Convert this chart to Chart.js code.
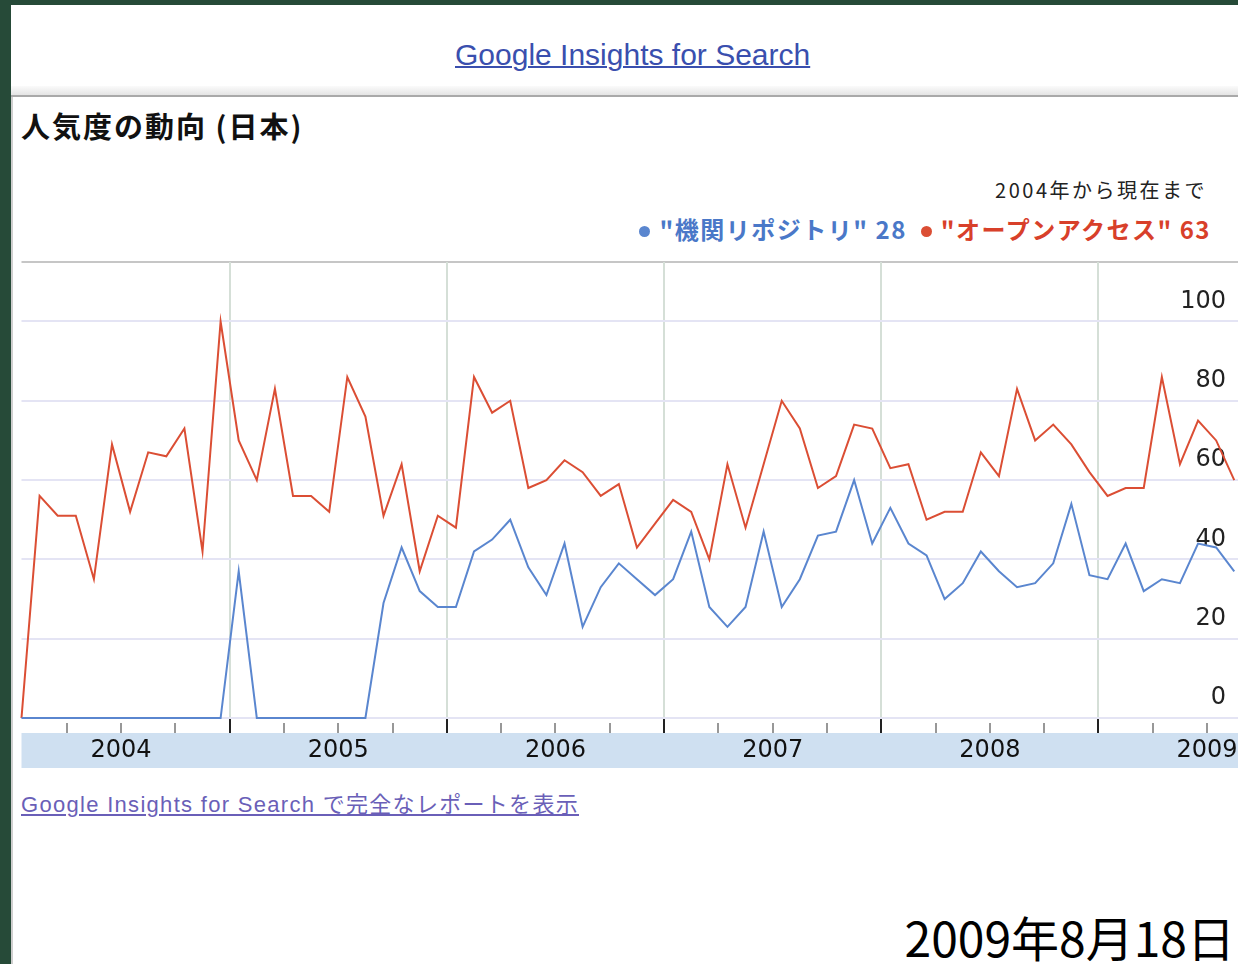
<!DOCTYPE html>
<html>
<head>
<meta charset="utf-8">
<script src="https://cdn.jsdelivr.net/npm/chart.js@4.4.1/dist/chart.umd.min.js"></script>
<style>
	html, body
	{
		margin: 0;
		padding: 0;
		width: 1238px;
		height: 964px;
		overflow: hidden;
		background: #264a38;
	}
	#panel
	{
		position: absolute;
		left: 11px;
		top: 5px;
		width: 1227px;
		height: 959px;
		background: #ffffff;
	}
	#headBar
	{
		position: absolute;
		left: 11px;
		top: 86px;
		width: 1227px;
		height: 9px;
		background: linear-gradient(#fbfbfb, #e4e4e4);
		border-bottom: 2px solid #a9a9a9;
	}
	#leftLine
	{
		position: absolute;
		left: 11px;
		top: 97px;
		width: 2px;
		height: 867px;
		background: #cfcfcf;
	}
	.txt
	{
		position: absolute;
		white-space: nowrap;
		font-family: "Noto Sans CJK JP", sans-serif;
	}
	#topLink
	{
		left: 455px;
		top: 40px;
		font: 30px/30px "Liberation Sans", sans-serif;
		color: #3a4fae;
		text-decoration: underline;
		text-decoration-thickness: 2px;
	}
	#title
	{
		left: 21px;
		top: 109px;
		font-size: 29px;
		line-height: 32px;
		font-weight: bold;
		letter-spacing: 2px;
		color: #111;
	}
	#period
	{
		right: 31px;
		top: 177px;
		font-size: 20px;
		line-height: 26px;
		letter-spacing: 2.5px;
		color: #222;
	}
	#legend
	{
		right: 27px;
		top: 214px;
		display: flex;
		align-items: center;
		font-size: 24px;
		line-height: 30px;
		font-weight: bold;
		letter-spacing: 1.5px;
	}
	#legend .dot
	{
		display: inline-block;
		width: 11px;
		height: 11px;
		border-radius: 50%;
		margin: 4px 9px 0 0;
	}
	#legend .item
	{
		display: flex;
		align-items: center;
		margin-left: 14px;
	}
	#chartBox
	{
		position: absolute;
		left: 12px;
		top: 255px;
		width: 1250px;
		height: 513px;
	}
	#bottomLink
	{
		left: 21px;
		top: 791px;
		font: 22px/28px "Liberation Sans", "Noto Sans CJK JP", sans-serif;
		letter-spacing: 1.3px;
		color: #6a5fb8;
		text-decoration: underline;
	}
	#date
	{
		right: 3px;
		top: 906px;
		font-size: 48px;
		line-height: 60px;
		color: #000;
	}
</style>
</head>
<body>
<div id="panel"></div>
<div id="headBar"></div>
<div id="leftLine"></div>
<div class="txt" id="topLink">Google Insights for Search</div>
<div class="txt" id="title">人気度の動向 (日本)</div>
<div class="txt" id="period">2004年から現在まで</div>
<div class="txt" id="legend"></div>
<div id="chartBox"><canvas id="trend"></canvas></div>
<div class="txt" id="bottomLink">Google Insights for Search で完全なレポートを表示</div>
<div class="txt" id="date">2009年8月18日</div>

<script>
// monthly values, Jan 2004 .. Aug 2009
var repoName = "\"機関リポジトリ\"";
var repoAvg = 28;
var repoVals = [0, 0, 0, 0, 0, 0, 0, 0, 0, 0, 0, 0,
	37, 0, 0, 0, 0, 0, 0, 0, 29, 43, 32, 28,
	28, 42, 45, 50, 38, 31, 44, 23, 33, 39, 35, 31,
	35, 47, 28, 23, 28, 47, 28, 35, 46, 47, 60, 44,
	53, 44, 41, 30, 34, 42, 37, 33, 34, 39, 54, 36,
	35, 44, 32, 35, 34, 44, 43, 37];

var oaName = "\"オープンアクセス\"";
var oaAvg = 63;
var oaVals = [0, 56, 51, 51, 35, 69, 52, 67, 66, 73, 42, 100,
	70, 60, 83, 56, 56, 52, 86, 76, 51, 64, 37, 51,
	48, 86, 77, 80, 58, 60, 65, 62, 56, 59, 43, 49,
	55, 52, 40, 64, 48, 64, 80, 73, 58, 61, 74, 73,
	63, 64, 50, 52, 52, 67, 61, 83, 70, 74, 69, 62,
	56, 58, 58, 86, 64, 75, 70, 60];

var yearLabels = ["2004", "2005", "2006", "2007", "2008", "2009"];
var yTicks = [0, 20, 40, 60, 80, 100];

var blue = "#5a86cf";
var red = "#db4e34";


function fillLegend()
{
	let legend = document.getElementById("legend");
	let items = [[repoName, repoAvg, blue, "#4a78c8"], [oaName, oaAvg, red, "#d8402a"]];
	for (let i = 0; i < items.length; i++)
	{
		let item = document.createElement("span");
		item.className = "item";
		item.innerHTML = "<span class='dot' style='background:" + items[i][2] + "'></span>"
			+ "<span style='color:" + items[i][3] + "'>" + items[i][0] + " " + items[i][1] + "</span>";
		legend.appendChild(item);
	}
}


function toPoints(vals)
{
	let pts = [];
	for (let i = 0; i < vals.length; i++)
	{
		pts.push({x: i, y: vals[i]});
	}
	return pts;
}


// quarter boundaries between months (index - 0.5)
function quarterTicks()
{
	let ticks = [];
	for (let v = 2.5; v < oaVals.length; v += 3)
	{
		ticks.push({value: v});
	}
	return ticks;
}

function isYearEdge(v)
{
	return (v - 11.5) % 12 === 0;
}


var bandPlugin =
{
	id: "band",
	beforeDraw: function(chart)
	{
		let ctx = chart.ctx;
		let area = chart.chartArea;
		let xs = chart.scales.x;
		ctx.save();
		ctx.fillStyle = "#cfe0f1";
		ctx.fillRect(area.left, xs.top + 15, area.right - area.left, xs.bottom - xs.top - 15);
		ctx.strokeStyle = "#c6c6c6";
		ctx.lineWidth = 2;
		ctx.beginPath();
		ctx.moveTo(area.left, area.top);
		ctx.lineTo(area.right, area.top);
		ctx.stroke();
		ctx.restore();
	}
};


function drawTrend()
{
	new Chart("trend",
	{
		type: "line",
		data:
		{
			datasets:
			[{
				label: repoName,
				data: toPoints(repoVals),
				borderColor: blue,
				borderWidth: 2,
				pointRadius: 0,
				clip: false
			},
			{
				label: oaName,
				data: toPoints(oaVals),
				borderColor: red,
				borderWidth: 2,
				pointRadius: 0,
				clip: false
			}]
		},
		options:
		{
			responsive: true,
			maintainAspectRatio: false,
			animation: false,
			layout: {padding: {left: 9.5, top: 7, right: 12, bottom: 0}},
			plugins:
			{
				legend: {display: false},
				tooltip: {enabled: false}
			},
			scales:
			{
				x:
				{
					type: "linear",
					min: 0,
					max: 67.87,
					afterBuildTicks: function(axis) { axis.ticks = quarterTicks(); },
					afterFit: function(axis) { axis.height = 50; axis.paddingLeft = 0; axis.paddingRight = 0; },
					border: {display: false},
					grid:
					{
						color: function(c) { return isYearEdge(c.tick.value) ? "#d5dfd7" : "rgba(0,0,0,0)"; },
						lineWidth: function(c) { return isYearEdge(c.tick.value) ? 2 : 0; },
						tickColor: function(c) { return isYearEdge(c.tick.value) ? "#222" : "#777"; },
						tickWidth: function(c) { return isYearEdge(c.tick.value) ? 2 : 1.5; },
						tickBorderDash: function(c) { return isYearEdge(c.tick.value) ? [] : [0, 5, 10, 100]; },
						tickLength: 15
					},
					ticks:
					{
						autoSkip: false,
						maxRotation: 0,
						padding: 3,
						color: "#111",
						font: {family: "DejaVu Sans", size: 24},
						callback: function(v)
						{
							let k = (v - 5.5) / 12;
							return Number.isInteger(k) ? yearLabels[k] : "";
						}
					}
				},
				y:
				{
					position: "right",
					min: 0,
					max: 115,
					afterBuildTicks: function(axis) { axis.ticks = yTicks.map(function(v) { return {value: v}; }); },
					afterFit: function(axis) { axis.width = 0; axis.paddingTop = 0; axis.paddingBottom = 0; },
					border: {display: false},
					grid:
					{
						color: "#e4e4f4",
						lineWidth: 2,
						drawTicks: false
					},
					ticks:
					{
						mirror: true,
						padding: -24,
						labelOffset: -20,
						color: "#222",
						font: {family: "DejaVu Sans", size: 24}
					}
				}
			}
		},
		plugins: [bandPlugin]
	});
}

fillLegend();
drawTrend();
</script>
</body>
</html>
